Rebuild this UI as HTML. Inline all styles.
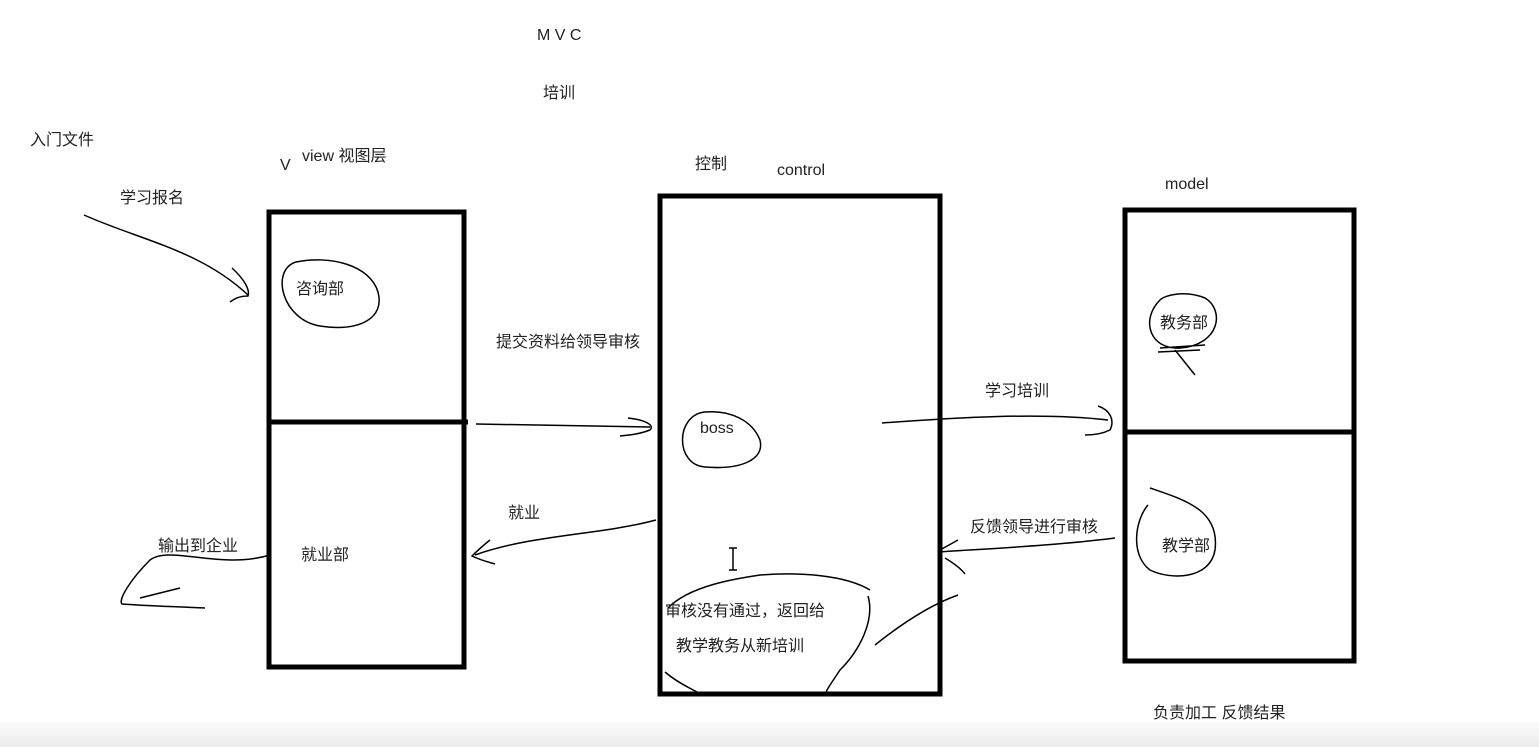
<!DOCTYPE html>
<html><head><meta charset="utf-8"><style>
html,body{margin:0;padding:0;background:#fff;}
body{width:1539px;height:747px;position:relative;overflow:hidden;font-family:"Liberation Sans","Noto Sans CJK SC",sans-serif;}
.t{position:absolute;font-size:16px;color:#222;white-space:nowrap;line-height:1;}
.strip{position:absolute;left:0;top:722px;width:1539px;height:25px;background:linear-gradient(#fafafa,#ececec);}
</style></head><body>
<div class="strip"></div>
<svg width="1539" height="747" style="position:absolute;left:0;top:0" fill="none" stroke="#000">
<g stroke-width="5">
<rect x="269" y="212" width="195" height="455"/>
<line x1="269" y1="422" x2="468" y2="422"/>
<rect x="660" y="196" width="280" height="498"/>
<rect x="1125" y="210" width="229" height="451"/>
<line x1="1125" y1="432" x2="1354" y2="432"/>
</g>
<g stroke-width="1.5">
<path d="M84 215 C140 240 200 250 248 295 M232 268 C245 280 250 290 248 296 C240 296 235 298 230 302"/>
<path d="M296 262 C270 270 282 320 320 326 C360 332 385 318 378 292 C370 265 330 255 296 262"/>
<path d="M476 424 L650 427 M628 418 C645 420 655 425 650 430 C640 434 630 435 620 436"/>
<path d="M705 412 C675 415 675 465 705 467 C740 470 765 460 760 440 C752 420 730 410 705 412"/>
<path d="M882 423 C950 418 1040 412 1108 420 M1098 406 C1110 410 1115 420 1110 430 C1100 435 1090 435 1085 435"/>
<path d="M1160 300 C1140 320 1150 350 1180 348 C1220 345 1225 310 1205 298 C1185 290 1165 295 1160 300 M1160 348 L1205 345 M1158 352 L1200 350 M1175 350 L1195 375"/>
<path d="M656 520 C600 535 530 535 475 555 M490 540 C480 548 475 553 472 556 C480 560 488 562 495 564"/>
<path d="M1115 538 C1060 545 1000 548 938 552 M958 540 L940 550 M945 558 C955 564 962 570 965 574"/>
<path d="M1150 488 C1185 500 1220 510 1215 550 C1210 580 1170 580 1150 570 C1130 555 1135 520 1148 505"/>
<path d="M270 555 C220 570 170 545 150 560 C130 580 118 600 122 604 C150 606 185 607 205 608 M140 598 L180 588"/>
<path d="M668 608 C690 585 740 578 760 575 C800 572 845 575 870 590 M868 596 C875 620 860 650 840 670 C830 685 825 692 826 694 M665 672 C680 685 695 690 700 694 M875 645 C900 625 930 605 958 595"/>
<path d="M733 548 L733 570 M729 548 L737 548 M729 570 L737 570"/>
</g>
</svg>
<div class="t" style="left:537px;top:28px">M V C</div>
<div class="t" style="left:543px;top:86px">培训</div>
<div class="t" style="left:30px;top:133px">入门文件</div>
<div class="t" style="left:280px;top:158px">V</div>
<div class="t" style="left:302px;top:149px">view 视图层</div>
<div class="t" style="left:120px;top:191px">学习报名</div>
<div class="t" style="left:695px;top:157px">控制</div>
<div class="t" style="left:777px;top:163px">control</div>
<div class="t" style="left:1165px;top:177px">model</div>
<div class="t" style="left:296px;top:282px">咨询部</div>
<div class="t" style="left:496px;top:335px">提交资料给领导审核</div>
<div class="t" style="left:700px;top:421px">boss</div>
<div class="t" style="left:985px;top:384px">学习培训</div>
<div class="t" style="left:1160px;top:316px">教务部</div>
<div class="t" style="left:508px;top:506px">就业</div>
<div class="t" style="left:970px;top:520px">反馈领导进行审核</div>
<div class="t" style="left:1162px;top:539px">教学部</div>
<div class="t" style="left:158px;top:539px">输出到企业</div>
<div class="t" style="left:301px;top:548px">就业部</div>
<div class="t" style="left:665px;top:604px">审核没有通过，返回给</div>
<div class="t" style="left:676px;top:639px">教学教务从新培训</div>
<div class="t" style="left:1153px;top:706px">负责加工 反馈结果</div>
</body></html>
